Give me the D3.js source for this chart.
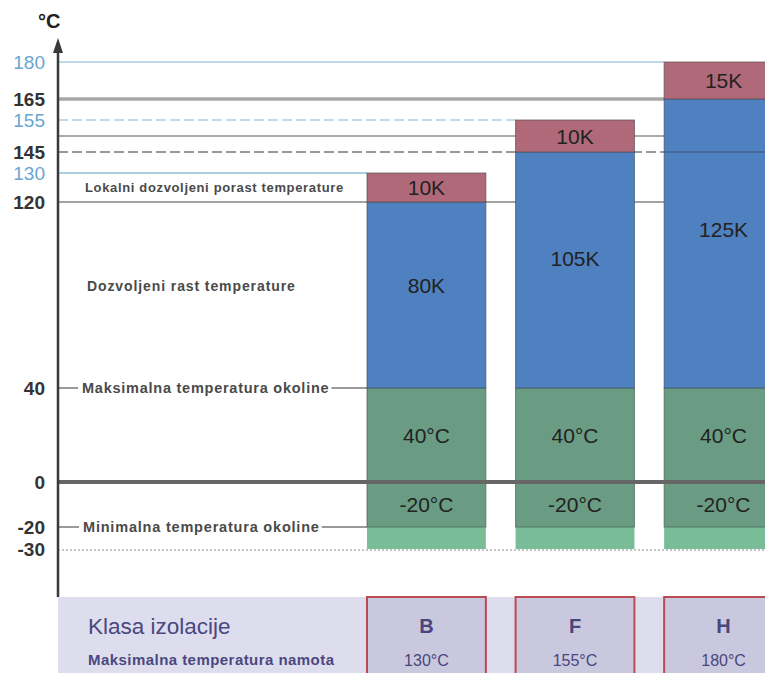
<!DOCTYPE html>
<html>
<head>
<meta charset="utf-8">
<script src="https://cdn.jsdelivr.net/npm/d3@7"></script>
<style>
  body { margin: 0; background: #fff; }
  svg { display: block; font-family: 'Liberation Sans', Arial, sans-serif; }
</style>
</head>
<body>
<div id="chart"></div>
<script>
/* global d3 */

// Podaci (klase izolacije)
const classes = ['B', 'F', 'H']
const maxTemps = [130, 155, 180]
const riseK = [80, 105, 125]
const localK = [10, 10, 15]
const ambientMax = 40
const ambientMin = -20
const floorTemp = -30
const tickValues = [180, 165, 155, 145, 130, 120, 40, 0, -20, -30]
const blueTicks = [180, 155, 130]

function drawChart () {
  const width = 765
  const height = 673
  const axisX = 58
  const tableTop = 597

  const svg = d3.select('#chart')
    .append('svg')
    .attr('width', width)
    .attr('height', height)

  // Os y - skala nije linearna na originalu pa je po dijelovima
  const y = d3.scaleLinear()
    .domain([-30, -20, 0, 40, 120, 130, 145, 150, 155, 165, 180])
    .range([549, 527, 482, 388, 202, 173, 152, 136, 120, 99, 62])

  const x = d3.scaleBand()
    .domain(classes)
    .range([367, 783])
    .paddingInner(0.2)
    .paddingOuter(0)

  const bw = x.bandwidth()

  // Pomocne horizontalne linije
  const refLines = [
    { v: 180, to: 'H', color: '#a9cfe2', w: 1.5 },
    { v: 165, to: 'H', color: '#a8a8a8', w: 3.5 },
    { v: 155, to: 'F', color: '#a9cfe2', w: 1.5, dash: '10,4' },
    { v: 150, to: 'H', color: '#ababab', w: 2 },
    { v: 145, to: 'H', color: '#9a9a9a', w: 2, dash: '10,4' },
    { v: 130, to: 'B', color: '#a9cfe2', w: 2 },
    { v: 120, to: 'H', color: '#a3a3a3', w: 2 },
    { v: 40, to: 'B', color: '#9a9a9a', w: 2 },
    { v: -20, to: 'B', color: '#9a9a9a', w: 2 }
  ]

  svg.append('g')
    .selectAll('line')
    .data(refLines)
    .join('line')
    .attr('x1', axisX)
    .attr('x2', d => x(d.to))
    .attr('y1', d => y(d.v))
    .attr('y2', d => y(d.v))
    .attr('stroke', d => d.color)
    .attr('stroke-width', d => d.w)
    .attr('stroke-dasharray', d => d.dash || null)

  // linija -30 (tockasta)
  svg.append('line')
    .attr('x1', axisX)
    .attr('x2', width)
    .attr('y1', y(floorTemp) + 1)
    .attr('y2', y(floorTemp) + 1)
    .attr('stroke', '#c4c4c4')
    .attr('stroke-width', 2)
    .attr('stroke-dasharray', '2,2')

  // Stupci
  const segments = []
  classes.forEach((c, i) => {
    const riseTop = ambientMax + riseK[i]
    segments.push({ c, y0: floorTemp, y1: ambientMin, fill: '#79bd98', stroke: 'none' })
    segments.push({ c, y0: ambientMin, y1: ambientMax, fill: '#6a9b83', stroke: '#46604f' })
    segments.push({ c, y0: ambientMax, y1: riseTop, fill: '#4f80bf', stroke: '#3d5269' })
    segments.push({ c, y0: riseTop, y1: maxTemps[i], fill: '#b06979', stroke: '#5a4a50' })
  })

  svg.append('g')
    .selectAll('rect')
    .data(segments)
    .join('rect')
    .attr('x', d => x(d.c))
    .attr('width', bw)
    .attr('y', d => y(d.y1))
    .attr('height', d => y(d.y0) - y(d.y1))
    .attr('fill', d => d.fill)
    .attr('stroke', d => d.stroke)
    .attr('stroke-width', 1)
    .attr('stroke-opacity', 0.7)

  // linija 0 preko svega
  svg.append('line')
    .attr('x1', axisX)
    .attr('x2', width)
    .attr('y1', y(0))
    .attr('y2', y(0))
    .attr('stroke', '#666')
    .attr('stroke-width', 4)

  // linija 145 prelazi preko stupca H
  svg.append('line')
    .attr('x1', x('H'))
    .attr('x2', width)
    .attr('y1', y(145))
    .attr('y2', y(145))
    .attr('stroke', '#3f5570')
    .attr('stroke-width', 1.2)

  // Natpisi u stupcima
  const barText = svg.append('g')
    .attr('text-anchor', 'middle')
    .style('font-size', '21px')
    .style('fill', '#222')

  classes.forEach((c, i) => {
    const cx = x(c) + bw / 2
    const riseTop = ambientMax + riseK[i]
    barText.append('text')
      .attr('x', cx)
      .attr('y', (y(riseTop) + y(maxTemps[i])) / 2 + 7.5)
      .text(localK[i] + 'K')
    barText.append('text')
      .attr('x', cx)
      .attr('y', y(ambientMax) - 0.55 * (y(ambientMax) - y(riseTop)) + 7.5)
      .text(riseK[i] + 'K')
    barText.append('text')
      .attr('x', cx)
      .attr('y', (y(0) + y(ambientMax)) / 2 + 7.5)
      .text(ambientMax + '°C')
    barText.append('text')
      .attr('x', cx)
      .attr('y', (y(0) + y(ambientMin)) / 2 + 7.5)
      .text(ambientMin + '°C')
  })

  // Opisi lijevo
  const notes = [
    { text: 'Lokalni dozvoljeni porast temperature', v: 125, x: 85, size: 13, ls: 0.65, box: false },
    { text: 'Dozvoljeni rast temperature', v: 84, x: 87, size: 14, ls: 0.9, box: false },
    { text: 'Maksimalna temperatura okoline', v: ambientMax, x: 82, size: 14.5, ls: 0.75, box: true },
    { text: 'Minimalna temperatura okoline', v: ambientMin, x: 83, size: 14.5, ls: 0.8, box: true }
  ]

  notes.forEach(n => {
    const g = svg.append('g')
    const t = g.append('text')
      .attr('x', n.x)
      .attr('y', y(n.v) + n.size * 0.36)
      .style('font-size', n.size + 'px')
      .style('font-weight', 'bold')
      .style('letter-spacing', n.ls + 'px')
      .style('fill', '#4a4a4a')
      .text(n.text)
    if (n.box) {
      const b = t.node().getBBox()
      g.insert('rect', 'text')
        .attr('x', b.x - 4)
        .attr('y', b.y)
        .attr('width', b.width + 6)
        .attr('height', b.height)
        .attr('fill', '#fff')
    }
  })

  // Os y
  svg.append('line')
    .attr('x1', axisX)
    .attr('x2', axisX)
    .attr('y1', tableTop)
    .attr('y2', 50)
    .attr('stroke', '#3a3a3a')
    .attr('stroke-width', 2.5)

  svg.append('path')
    .attr('d', `M${axisX},38 L${axisX - 5},53 L${axisX + 5},53 Z`)
    .attr('fill', '#3a3a3a')

  svg.append('text')
    .attr('x', 38)
    .attr('y', 28)
    .style('font-size', '20px')
    .style('font-weight', 'bold')
    .style('fill', '#222')
    .text('°C')

  svg.append('g')
    .selectAll('text')
    .data(tickValues)
    .join('text')
    .attr('x', 45)
    .attr('y', d => y(d) + 7)
    .attr('text-anchor', 'end')
    .style('font-size', '19px')
    .style('font-weight', d => blueTicks.includes(d) ? 'normal' : 'bold')
    .style('fill', d => blueTicks.includes(d) ? '#6aa6d1' : '#333')
    .text(d => d)

  // Tablica na dnu
  svg.append('rect')
    .attr('x', axisX)
    .attr('y', tableTop)
    .attr('width', width - axisX)
    .attr('height', height - tableTop)
    .attr('fill', '#dedded')

  svg.append('g')
    .selectAll('rect')
    .data(classes)
    .join('rect')
    .attr('x', d => x(d))
    .attr('y', tableTop)
    .attr('width', bw)
    .attr('height', height - tableTop + 10)
    .attr('fill', '#cac8de')
    .attr('stroke', '#bb4a52')
    .attr('stroke-width', 2)

  svg.append('text')
    .attr('x', 88)
    .attr('y', 634)
    .style('font-size', '22.5px')
    .style('fill', '#4a4880')
    .text('Klasa izolacije')

  svg.append('text')
    .attr('x', 88)
    .attr('y', 665)
    .style('font-size', '15px')
    .style('font-weight', 'bold')
    .style('letter-spacing', '0.45px')
    .style('fill', '#4a4880')
    .text('Maksimalna temperatura namota')

  const cellText = svg.append('g')
    .attr('text-anchor', 'middle')
    .style('fill', '#48467c')

  classes.forEach((c, i) => {
    cellText.append('text')
      .attr('x', x(c) + bw / 2)
      .attr('y', 633)
      .style('font-size', '20px')
      .style('font-weight', 'bold')
      .text(c)
    cellText.append('text')
      .attr('x', x(c) + bw / 2)
      .attr('y', 666)
      .style('font-size', '16px')
      .text(maxTemps[i] + '°C')
  })
}

drawChart()
</script>
</body>
</html>
